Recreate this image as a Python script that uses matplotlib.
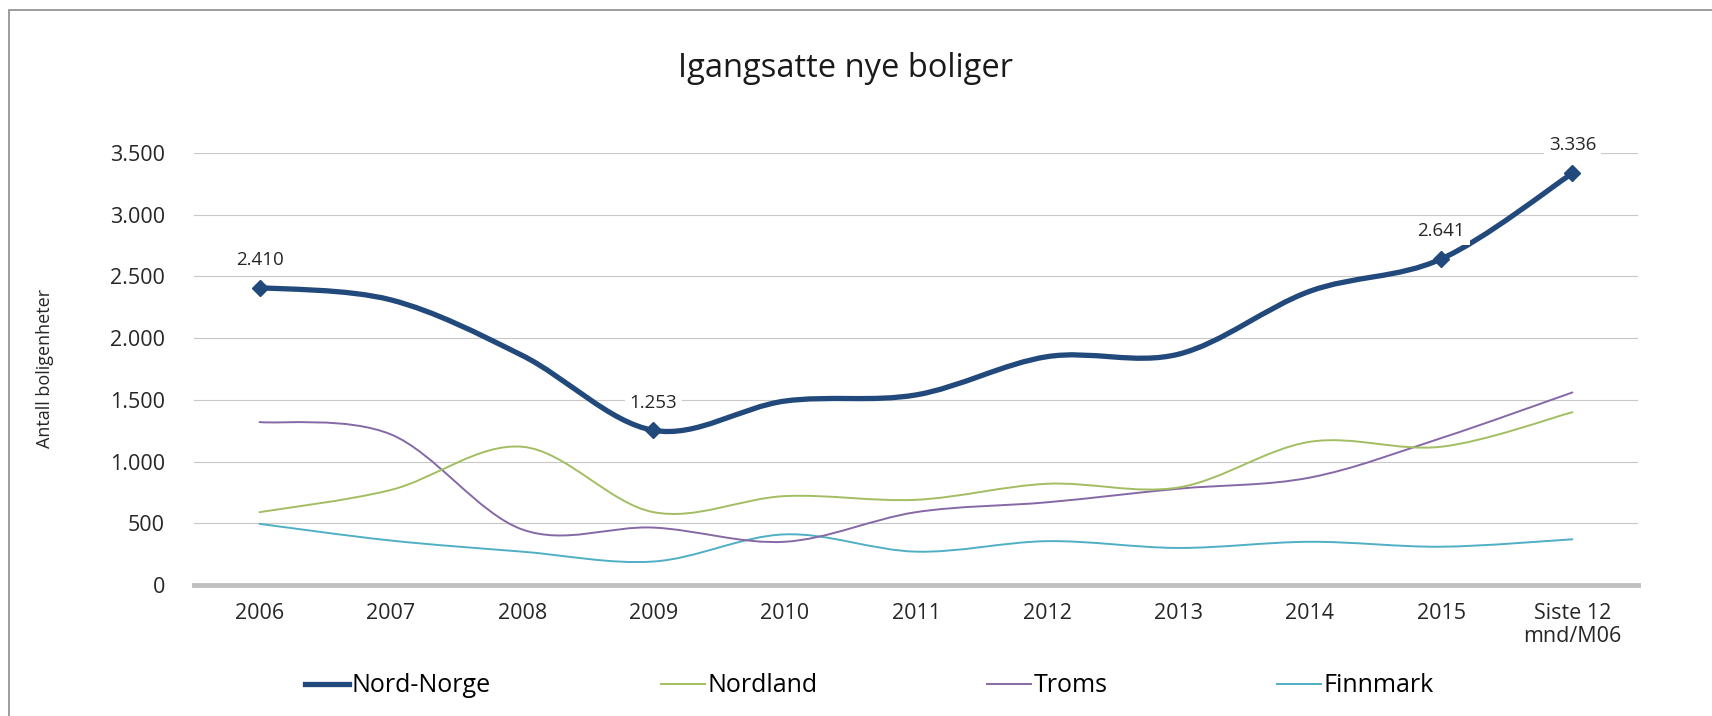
import matplotlib.pyplot as plt
from matplotlib.path import Path
from matplotlib.patches import PathPatch, Rectangle
from matplotlib.lines import Line2D
from matplotlib.ticker import FuncFormatter

plt.rcParams['font.family'] = ['Open Sans', 'DejaVu Sans']

# Data
categories = ['2006', '2007', '2008', '2009', '2010', '2011', '2012', '2013',
              '2014', '2015', 'Siste 12\nmnd/M06']
nord_norge = [2410, 2310, 1860, 1253, 1490, 1540, 1850, 1870, 2380, 2641, 3336]
nordland = [590, 770, 1120, 590, 720, 690, 820, 790, 1160, 1120, 1400]
troms = [1320, 1220, 450, 465, 350, 590, 670, 780, 870, 1190, 1560]
finnmark = [495, 360, 270, 190, 410, 270, 355, 300, 350, 310, 370]
labelled = [0, 3, 9, 10]

series = [
    ('Nord-Norge', nord_norge, '#22497B', 3.8),
    ('Nordland', nordland, '#A3BE62', 1.4),
    ('Troms', troms, '#8668A6', 1.4),
    ('Finnmark', finnmark, '#4FAFC4', 1.4),
]


def smooth_path(xs, ys):
    # Excel-style smoothed line: cubic Bezier segments through the data points
    pts = list(zip(xs, ys))
    n = len(pts)
    verts = [pts[0]]
    codes = [Path.MOVETO]
    for i in range(n - 1):
        p0 = pts[max(i - 1, 0)]
        p1 = pts[i]
        p2 = pts[i + 1]
        p3 = pts[min(i + 2, n - 1)]
        c1 = (p1[0] + (p2[0] - p0[0]) / 6, p1[1] + (p2[1] - p0[1]) / 6)
        c2 = (p2[0] - (p3[0] - p1[0]) / 6, p2[1] - (p3[1] - p1[1]) / 6)
        verts += [c1, c2, p2]
        codes += [Path.CURVE4] * 3
    return Path(verts, codes)


fig = plt.figure(figsize=(17.12, 7.16), dpi=100)
ax = fig.add_axes([0.1133, 0.183, 0.8435, 0.6033])

x = list(range(len(categories)))
handles = []
for name, vals, color, lw in reversed(series):
    patch = PathPatch(smooth_path(x, vals), fill=False, edgecolor=color,
                      linewidth=lw, capstyle='round', joinstyle='round', zorder=3)
    ax.add_patch(patch)

for name, vals, color, lw in series:
    handles.append(Line2D([], [], color=color, linewidth=lw))

# markers and value labels for Nord-Norge
ax.plot([x[i] for i in labelled], [nord_norge[i] for i in labelled],
        linestyle='none', marker='D', markersize=8, color='#22497B', zorder=4)
for i in labelled:
    ax.annotate('{:,}'.format(nord_norge[i]).replace(',', '.'),
                (x[i], nord_norge[i]), xytext=(0, 20), textcoords='offset points',
                ha='center', va='center', fontsize=13.5, color='#262626',
                bbox=dict(boxstyle='square,pad=0.25', fc='white', ec='none'),
                zorder=5)

ax.set_xlim(-0.5, len(categories) - 0.5)
ax.set_ylim(0, 3500)
ax.set_yticks(range(0, 3501, 500))
ax.yaxis.set_major_formatter(FuncFormatter(lambda v, p: '{:,}'.format(int(v)).replace(',', '.')))
ax.set_xticks(x)
ax.set_xticklabels(categories, linespacing=1.1)
ax.tick_params(axis='y', length=0, pad=21, labelsize=15.5, labelcolor='#262626')
ax.tick_params(axis='x', length=0, pad=13, labelsize=15.5, labelcolor='#262626')
ax.grid(axis='y', color='#C8C8C8', linewidth=0.8)
ax.set_axisbelow(True)
for s in ['top', 'right', 'left']:
    ax.spines[s].set_visible(False)
ax.spines['bottom'].set_color('#BFBFBF')
ax.spines['bottom'].set_linewidth(3.5)

fig.text(0.494, 0.905, 'Igangsatte nye boliger', ha='center', va='center',
         fontsize=23.5, color='#1a1a1a')
fig.text(0.026, 0.486, 'Antall boligenheter', rotation=90, ha='center',
         va='center', fontsize=13, color='#262626')

fig.legend(handles, [s[0] for s in series], loc='center', ncol=4,
           bbox_to_anchor=(0.508, 0.042), frameon=False, fontsize=18,
           handlelength=1.75, handletextpad=0.1, columnspacing=6.8)

# outer chart border
fig.patches.append(Rectangle((0.0053, -0.05), 1.1, 1.036, transform=fig.transFigure,
                             fill=False, edgecolor='#8C8C8C', linewidth=1.2))

fig.savefig('out.png', dpi=100)
